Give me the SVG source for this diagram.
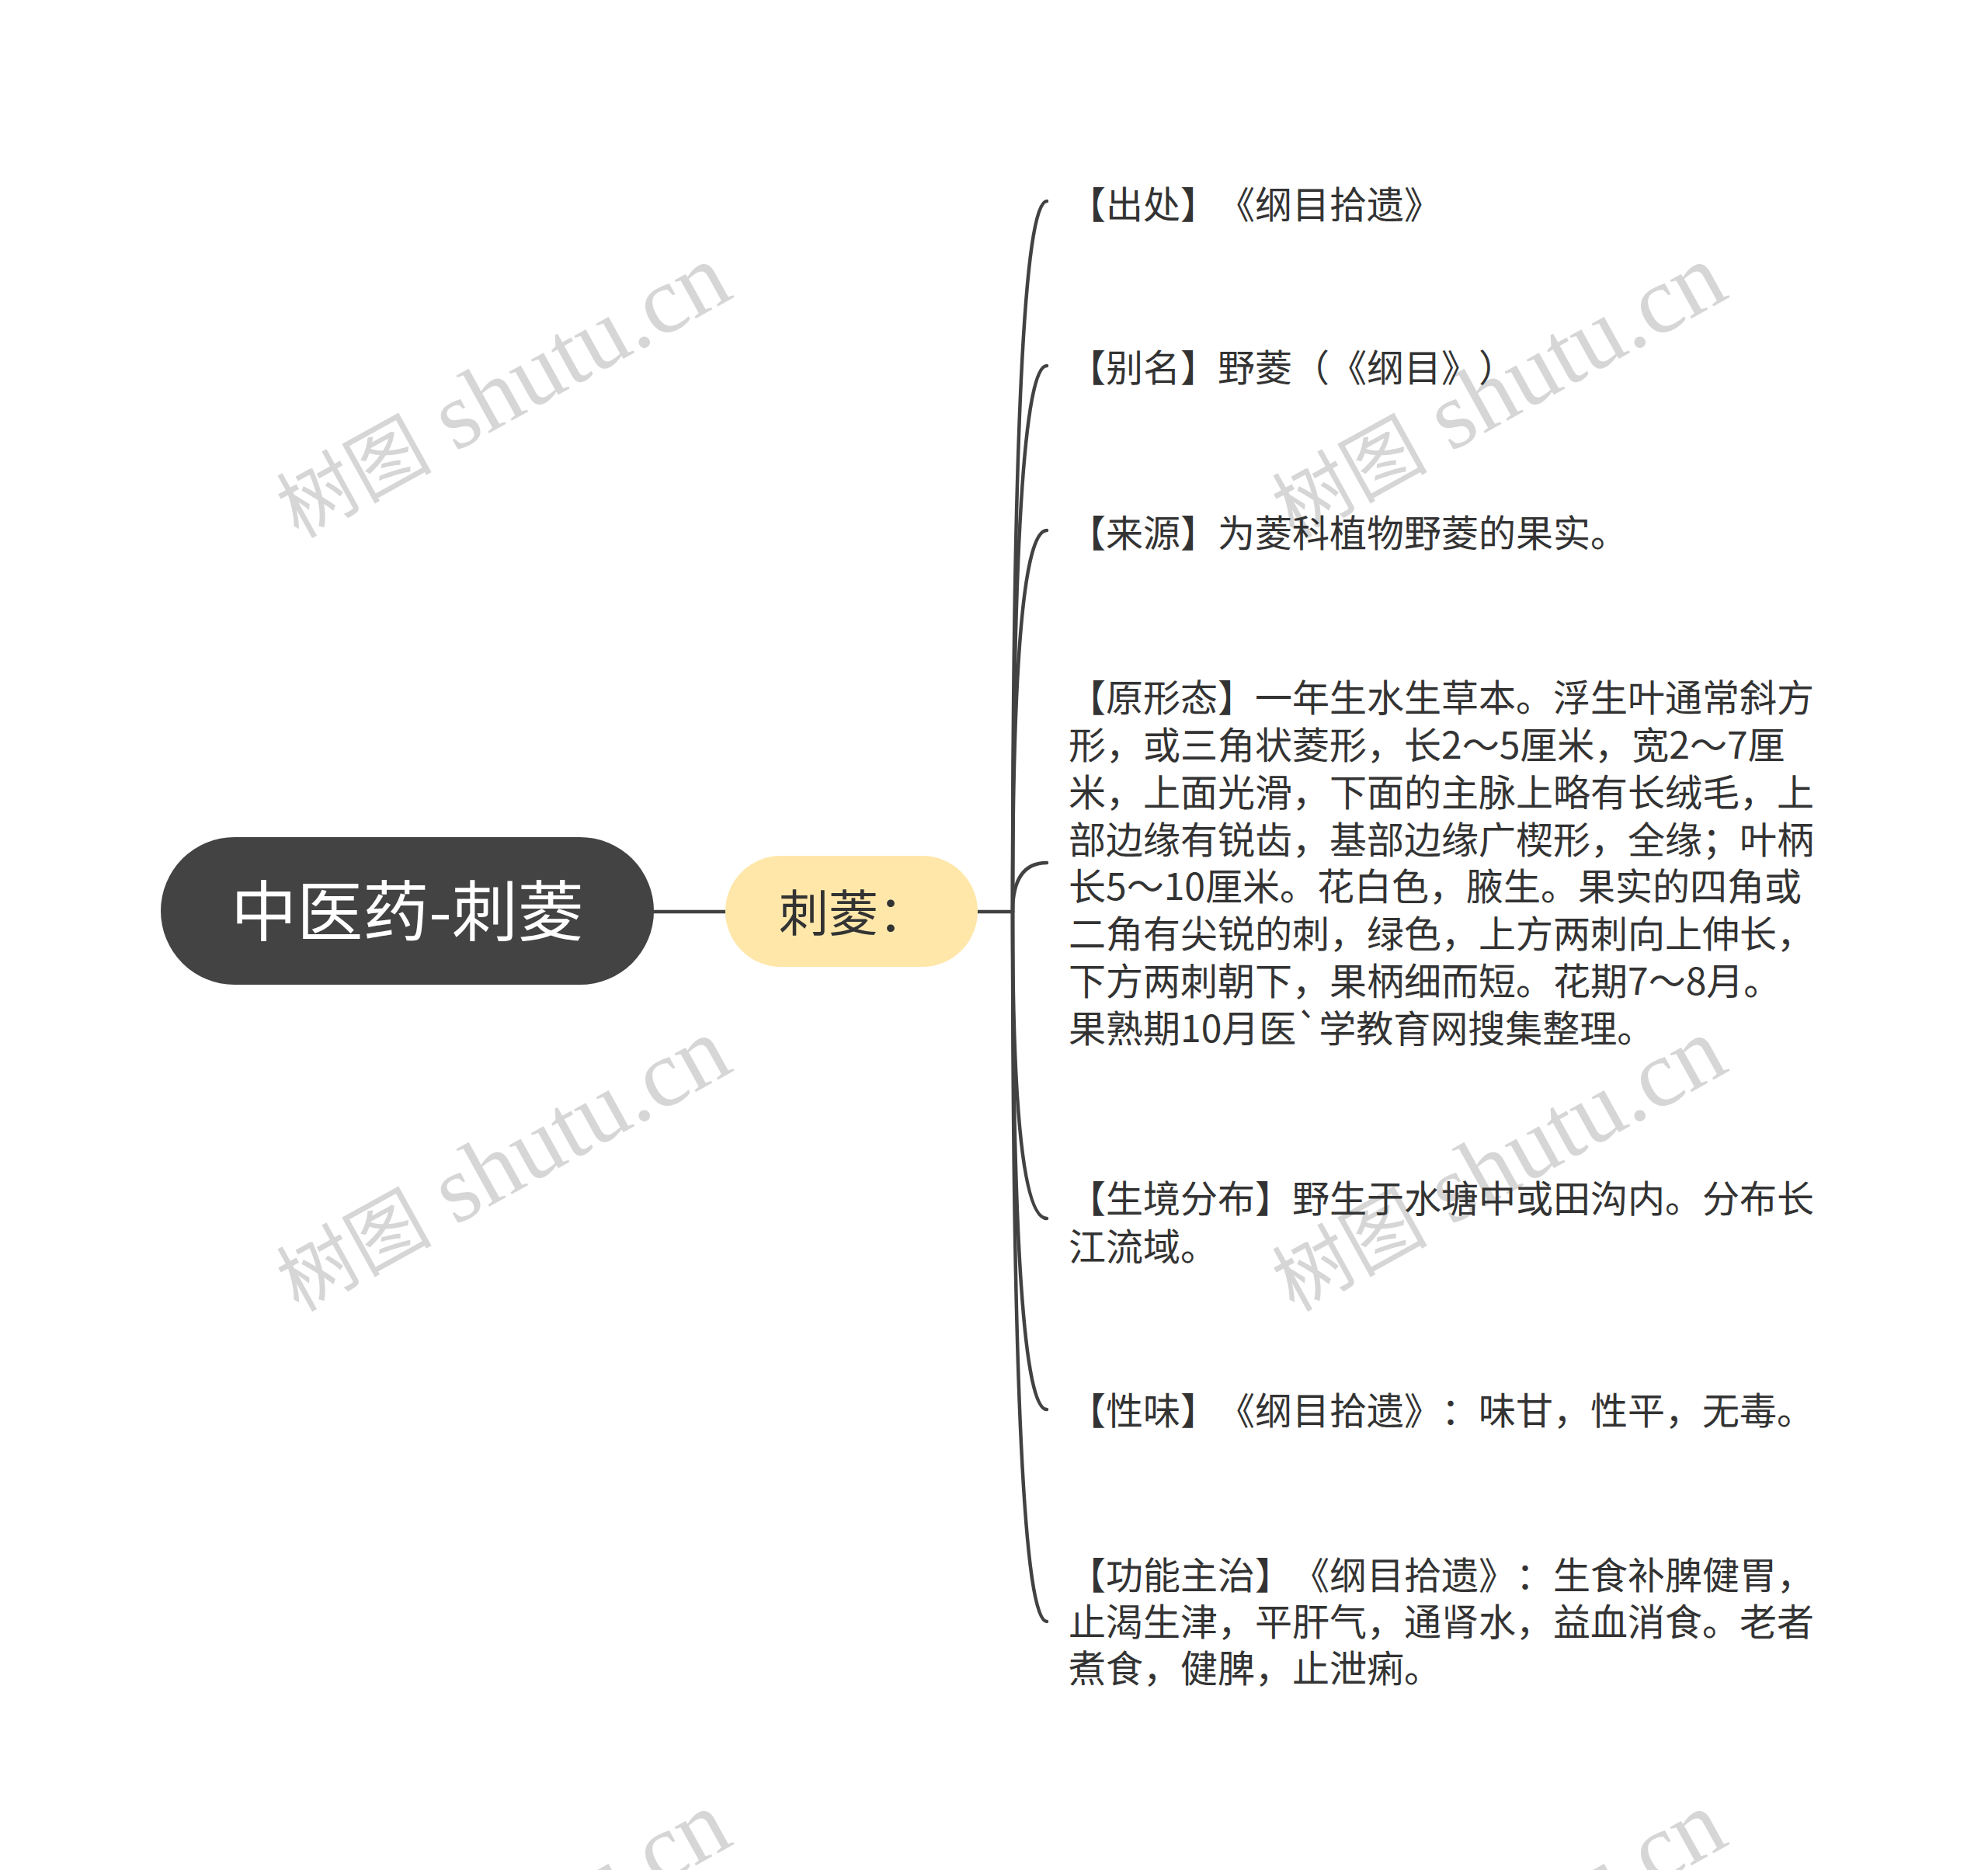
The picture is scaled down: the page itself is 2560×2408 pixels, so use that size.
<svg xmlns="http://www.w3.org/2000/svg" width="2560" height="2408" viewBox="0 0 2560 2408">
<style>
svg, text, tspan{text-spacing-trim:space-all}
.wm{font-family:"Liberation Serif","Noto Sans CJK SC",serif;font-size:123px;fill:#d6d6d6}
.wmcjk{font-size:100px}
.edge{fill:none;stroke:#424242;stroke-width:4.5;stroke-linecap:round}
.leaf{font-family:"Noto Sans CJK SC","Noto Sans",sans-serif;font-size:48px;fill:#333333}
.rootText{font-family:"Noto Sans CJK SC","Noto Sans",sans-serif;font-size:85px;fill:#ffffff}
.subText{font-family:"Noto Sans CJK SC","Noto Sans",sans-serif;font-size:64px;fill:#333333}
</style>
<rect width="2560" height="2408" fill="#ffffff"/>
<g id="watermarks">
<text class="wm" transform="translate(384,694) rotate(-29)"><tspan class="wmcjk">树图</tspan> shutu.cn</text>
<text class="wm" transform="translate(1666,694) rotate(-29)"><tspan class="wmcjk">树图</tspan> shutu.cn</text>
<text class="wm" transform="translate(384,1690) rotate(-29)"><tspan class="wmcjk">树图</tspan> shutu.cn</text>
<text class="wm" transform="translate(1666,1690) rotate(-29)"><tspan class="wmcjk">树图</tspan> shutu.cn</text>
<text class="wm" transform="translate(384,2686) rotate(-29)"><tspan class="wmcjk">树图</tspan> shutu.cn</text>
<text class="wm" transform="translate(1666,2686) rotate(-29)"><tspan class="wmcjk">树图</tspan> shutu.cn</text>
</g>
<g id="connectors">
<path class="edge" d="M842 1174 H934"/>
<path class="edge" d="M1259 1174 H1304"/>
<path class="edge" d="M1304 1174 Q1304 259 1348 259"/>
<path class="edge" d="M1304 1174 Q1304 471 1348 471"/>
<path class="edge" d="M1304 1174 Q1304 683 1348 683"/>
<path class="edge" d="M1304 1174 Q1304 1111 1348 1111"/>
<path class="edge" d="M1304 1174 Q1304 1569 1348 1569"/>
<path class="edge" d="M1304 1174 Q1304 1815 1348 1815"/>
<path class="edge" d="M1304 1174 Q1304 2088 1348 2088"/>
</g>
<g id="root">
<rect x="207" y="1078" width="635" height="190" rx="95" ry="95" fill="#434343"/>
<text class="rootText" x="524.5" y="1205" text-anchor="middle">中医药-刺菱</text>
</g>
<g id="sub">
<rect x="934" y="1102" width="325" height="143" rx="71.5" ry="71.5" fill="#ffe7aa"/>
<text class="subText" x="1003" y="1199">刺菱：</text>
</g>
<g id="leaf1">
<text class="leaf" x="1376" y="281">【出处】《纲目拾遗》</text>
</g>
<g id="leaf2">
<text class="leaf" x="1376" y="491">【别名】野菱（《纲目》）</text>
</g>
<g id="leaf3">
<text class="leaf" x="1376" y="704">【来源】为菱科植物野菱的果实。</text>
</g>
<g id="leaf4">
<text class="leaf" x="1376" y="916">
<tspan x="1376" y="916">【原形态】一年生水生草本。浮生叶通常斜方</tspan>
<tspan x="1376" y="977">形，或三角状菱形，长2～5厘米，宽2～7厘</tspan>
<tspan x="1376" y="1038">米，上面光滑，下面的主脉上略有长绒毛，上</tspan>
<tspan x="1376" y="1099">部边缘有锐齿，基部边缘广楔形，全缘；叶柄</tspan>
<tspan x="1376" y="1159">长5～10厘米。花白色，腋生。果实的四角或</tspan>
<tspan x="1376" y="1220">二角有尖锐的刺，绿色，上方两刺向上伸长，</tspan>
<tspan x="1376" y="1281">下方两刺朝下，果柄细而短。花期7～8月。</tspan>
<tspan x="1376" y="1342">果熟期10月医`学教育网搜集整理。</tspan>
</text>
</g>
<g id="leaf5">
<text class="leaf" x="1376" y="1561">
<tspan x="1376" y="1561">【生境分布】野生于水塘中或田沟内。分布长</tspan>
<tspan x="1376" y="1623">江流域。</tspan>
</text>
</g>
<g id="leaf6">
<text class="leaf" x="1376" y="1834">【性味】《纲目拾遗》：味甘，性平，无毒。</text>
</g>
<g id="leaf7">
<text class="leaf" x="1376" y="2046">
<tspan x="1376" y="2046">【功能主治】《纲目拾遗》：生食补脾健胃，</tspan>
<tspan x="1376" y="2106">止渴生津，平肝气，通肾水，益血消食。老者</tspan>
<tspan x="1376" y="2166">煮食，健脾，止泄痢。</tspan>
</text>
</g>
</svg>
